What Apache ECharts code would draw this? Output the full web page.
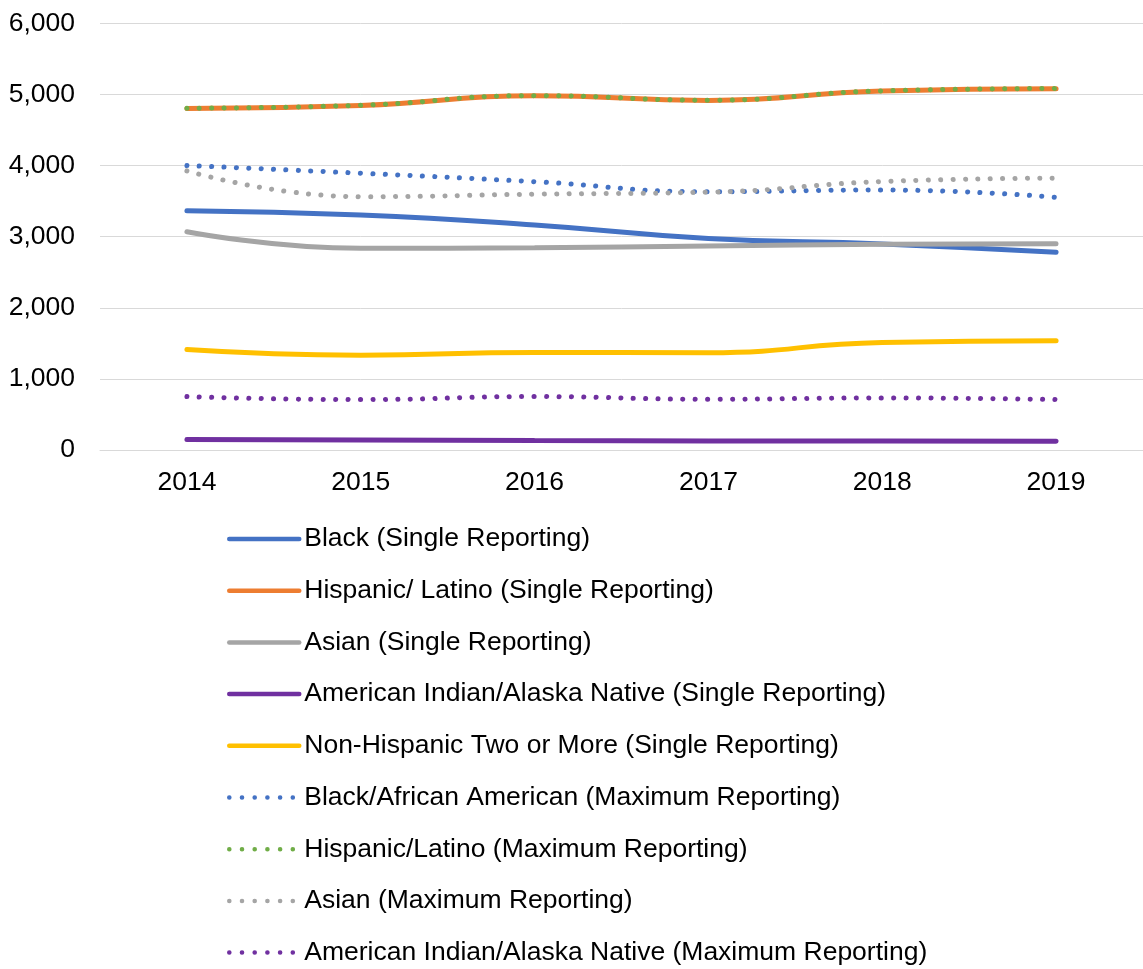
<!DOCTYPE html>
<html>
<head>
<meta charset="utf-8">
<script src="https://cdn.jsdelivr.net/npm/echarts@6/dist/echarts.min.js"></script>
<style>html,body{margin:0;padding:0;background:#fff;}#c{width:1143px;height:969px;}</style>
</head>
<body>
<div id="c"></div>
<script>
const years = ['2014', '2015', '2016', '2017', '2018', '2019'];
const yTicks = [0, 1000, 2000, 3000, 4000, 5000, 6000];

const blackSingle = [3365, 3305, 3165, 2975, 2897, 2779];
const hispanicSingle = [4803, 4845, 4980, 4916, 5047, 5080];
const asianSingle = [3070, 2836, 2845, 2869, 2892, 2901];
const aianSingle = [146, 140, 133, 128, 125, 122];
const twoOrMoreSingle = [1413, 1333, 1371, 1368, 1512, 1535];
const blackMax = [4000, 3892, 3773, 3632, 3656, 3553];
const hispanicMax = [4806, 4848, 4983, 4919, 5050, 5083];
const asianMax = [3925, 3562, 3597, 3625, 3775, 3822];
const aianMax = [751, 709, 751, 714, 732, 709];

const names = [
  'Black (Single Reporting)',
  'Hispanic/ Latino (Single Reporting)',
  'Asian (Single Reporting)',
  'American Indian/Alaska Native (Single Reporting)',
  'Non-Hispanic Two or More (Single Reporting)',
  'Black/African American (Maximum Reporting)',
  'Hispanic/Latino (Maximum Reporting)',
  'Asian (Maximum Reporting)',
  'American Indian/Alaska Native (Maximum Reporting)'
];
const values = [blackSingle, hispanicSingle, asianSingle, aianSingle, twoOrMoreSingle, blackMax, hispanicMax, asianMax, aianMax];
const colors = ['#4472C4', '#ED7D31', '#A5A5A5', '#7030A0', '#FFC000', '#4472C4', '#70AD47', '#A5A5A5', '#7030A0'];
const dotted = [false, false, false, false, false, true, true, true, true];

const FONT = '"Liberation Sans", Arial, sans-serif';
const chart = echarts.init(document.getElementById('c'), null, {renderer: 'canvas'});
const series = names.map((n, i) => ({
  name: n,
  type: 'line',
  data: values[i],
  smooth: true,
  symbol: 'none',
  color: colors[i],
  lineStyle: dotted[i]
    ? {color: colors[i], width: 5, type: [0.1, 12.3], cap: 'round'}
    : {color: colors[i], width: 5, cap: 'round'},
  z: dotted[i] ? 3 : 2
}));

const legendData = names.map((n, i) => ({
  name: n,
  itemStyle: {opacity: 0},
  lineStyle: dotted[i]
    ? {color: colors[i], width: 4.5, type: [0.1, 12.6], cap: 'round'}
    : {color: colors[i], width: 4.5, type: 'solid', cap: 'round'}
}));

chart.setOption({
  animation: false,
  backgroundColor: '#fff',
  textStyle: {fontFamily: FONT},
  grid: {left: 100, top: 23.3, width: 1050, bottom: 519, containLabel: false},
  xAxis: {
    type: 'category',
    data: years,
    boundaryGap: true,
    axisLine: {show: true, lineStyle: {color: '#D9D9D9', width: 1}},
    axisTick: {show: false},
    axisLabel: {color: '#000', fontSize: 26.5, margin: 19, fontFamily: FONT}
  },
  yAxis: {
    type: 'value',
    min: 0, max: 6000, interval: 1000,
    axisLine: {show: false},
    axisTick: {show: false},
    splitLine: {lineStyle: {color: '#D9D9D9', width: 1}},
    axisLabel: {
      color: '#000', fontSize: 26.5, margin: 25, fontFamily: FONT,
      formatter: v => yTicks.includes(v) ? v.toLocaleString('en-US') : ''
    }
  },
  legend: {
    orient: 'vertical',
    left: 227,
    top: 525.5,
    padding: 0,
    itemWidth: 70,
    itemHeight: 14,
    itemGap: 24.7,
    data: legendData,
    textStyle: {color: '#000', fontSize: 26.5, lineHeight: 27, fontFamily: FONT},
    selectedMode: false
  },
  series: series
});
</script>
</body>
</html>
